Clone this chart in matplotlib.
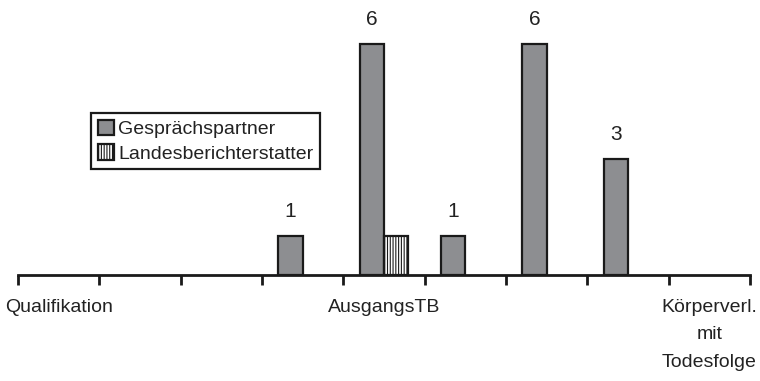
import matplotlib
matplotlib.use("Agg")
import matplotlib.pyplot as plt
from matplotlib.patches import Patch
import numpy as np

plt.rcParams['font.family'] = ['Liberation Sans', 'DejaVu Sans']
plt.rcParams['hatch.color'] = "#777777"
plt.rcParams['hatch.linewidth'] = 0.8

categories = ["Qualifikation", "", "", "", "AusgangsTB", "", "", "", "Körperverl.\nmit\nTodesfolge"]
gespraechspartner = [0, 0, 0, 1, 6, 1, 6, 3, 0]
landesberichterstatter = [0, 0, 0, 0, 1, 0, 0, 0, 0]
series_names = ["Gesprächspartner", "Landesberichterstatter"]

fig = plt.figure(figsize=(7.6, 3.81), dpi=100)
ax = fig.add_axes([18 / 760, 106 / 381, 732 / 760, 275 / 381])

x = np.arange(len(categories))
w = 0.3
bar_gray = "#8d8e91"
edge = "#1a1a1a"
text_col = "#222222"

b1 = ax.bar(x - w / 2, gespraechspartner, w, color=bar_gray, edgecolor=edge, linewidth=1.6)
b2 = ax.bar(x + w / 2, landesberichterstatter, w, color="white", edgecolor=edge,
            linewidth=1.6, hatch="||||||")

# zero-height bars are not drawn
for bars in (b1, b2):
    for r in bars:
        if r.get_height() == 0:
            r.set_visible(False)

# value labels on the first series
for xi, v in zip(x, gespraechspartner):
    if v > 0:
        ax.annotate(str(v), (xi - w / 2, v), xytext=(0, 11), textcoords="offset points",
                    ha="center", va="bottom", fontsize=15, color=text_col)

ax.set_xlim(-0.5, len(categories) - 0.5)
ax.set_ylim(0, 7.14)

for s in ("top", "right", "left"):
    ax.spines[s].set_visible(False)
ax.spines["bottom"].set_linewidth(2.0)
ax.spines["bottom"].set_color(edge)
ax.set_yticks([])

# ticks at category boundaries, labels at category centres
ax.set_xticks(np.arange(-0.5, len(categories), 1.0))
ax.set_xticklabels([])
ax.tick_params(axis="x", direction="out", length=7, width=2, color=edge)
ax.set_xticks(x, minor=True)
ax.set_xticklabels(categories, minor=True, fontsize=14, color=text_col, linespacing=1.82)
ax.tick_params(axis="x", which="minor", length=0, pad=17)

handles = [
    Patch(facecolor=bar_gray, edgecolor=edge, linewidth=1.6),
    Patch(facecolor="white", edgecolor=edge, linewidth=1.6, hatch="||||||"),
]
leg = ax.legend(handles, series_names, loc="upper left",
                bbox_to_anchor=(73 / 732, (275 - 113) / 275),
                fontsize=14, frameon=True, fancybox=False, framealpha=1,
                borderpad=0.35, handlelength=0.85, handleheight=0.85,
                handletextpad=0.2, labelspacing=0.3, borderaxespad=0)
leg.get_frame().set_edgecolor(edge)
leg.get_frame().set_linewidth(1.6)
for t in leg.get_texts():
    t.set_color(text_col)

fig.savefig("out.png", dpi=100)
